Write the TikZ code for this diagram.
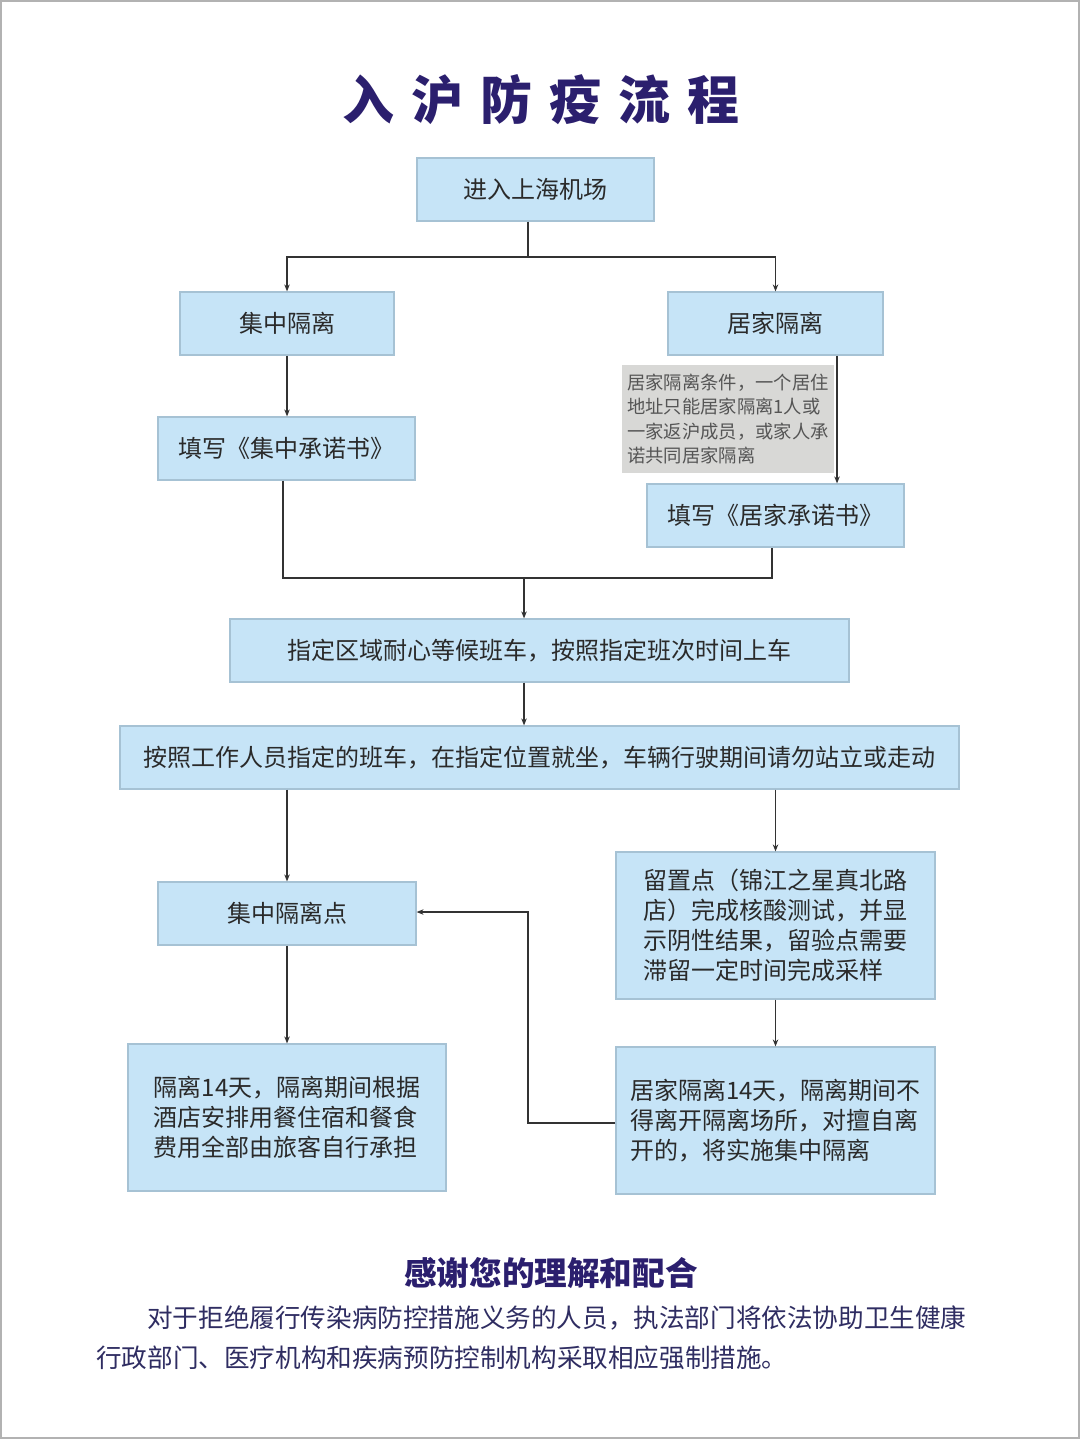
\documentclass[tikz,border=0pt]{standalone}
\usepackage{fontspec}
\setmainfont{Noto Sans CJK SC}
\usetikzlibrary{arrows.meta}
\definecolor{boxfill}{HTML}{C6E4F7}
\definecolor{boxline}{HTML}{A6C2D4}
\definecolor{boxtext}{HTML}{2A2A2A}
\definecolor{navy}{HTML}{2B1F6E}
\definecolor{paratext}{HTML}{2F2D62}
\definecolor{notefill}{HTML}{D8D8D6}
\definecolor{notetext}{HTML}{555555}
\definecolor{linecol}{HTML}{333333}
\tikzset{
  flowbox/.style={draw=boxline, fill=boxfill, line width=1.2pt, text=boxtext,
    inner sep=0pt, font=\fontsize{24}{30}\selectfont, align=left},
  notebox/.style={fill=notefill, text=notetext, inner sep=0pt,
    minimum width=212pt, minimum height=108pt,
    font=\fontsize{18.3}{24.3}\selectfont, align=left},
  conn/.style={draw=linecol, line width=1.2pt},
  arr/.style={conn, -{Stealth[length=7pt,width=5.5pt]}},
}
\begin{document}
\begin{tikzpicture}[x=1pt,y=-1pt]
\useasboundingbox (0,0) rectangle (1080,1439);
\fill[white] (0,0) rectangle (1080,1439);
\draw[gray!60, line width=2pt] (1,1) rectangle (1079,1438);

% title
\node[text=navy, font=\fontsize{52}{60}\selectfont\bfseries] (title) at (541,100)
  {入\hspace{17pt}沪\hspace{17pt}防\hspace{17pt}疫\hspace{17pt}流\hspace{17pt}程};

% boxes
\node[flowbox, minimum width=237pt, minimum height=63pt] (n1) at (535.5,189.5) {进入上海机场};
\node[flowbox, minimum width=214pt, minimum height=63pt] (n2) at (287,323.5) {集中隔离};
\node[flowbox, minimum width=215pt, minimum height=63pt] (n3) at (775.5,323.5) {居家隔离};
\node[flowbox, minimum width=257pt, minimum height=63pt] (n4) at (286.5,448.5) {填写《集中承诺书》};
\node[notebox] (note) at (728,419)
  {居家隔离条件，一个居住\\地址只能居家隔离1人或\\一家返沪成员，或家人承\\诺共同居家隔离};
\node[flowbox, minimum width=257pt, minimum height=63pt] (n6) at (775.5,515.5) {填写《居家承诺书》};
\node[flowbox, minimum width=619pt, minimum height=63pt] (n7) at (539.5,650.5)
  {指定区域耐心等候班车，按照指定班次时间上车};
\node[flowbox, minimum width=839pt, minimum height=63pt] (n8) at (539.5,757.5)
  {按照工作人员指定的班车，在指定位置就坐，车辆行驶期间请勿站立或走动};
\node[flowbox, minimum width=258pt, minimum height=63pt] (n9) at (287,913.5) {集中隔离点};
\node[flowbox, minimum width=319pt, minimum height=147pt] (n10) at (775.5,925.5)
  {留置点（锦江之星真北路\\店）完成核酸测试，并显\\示阴性结果，留验点需要\\滞留一定时间完成采样};
\node[flowbox, minimum width=318pt, minimum height=147pt] (n11) at (287,1117.5)
  {隔离14天，隔离期间根据\\酒店安排用餐住宿和餐食\\费用全部由旅客自行承担};
\node[flowbox, minimum width=319pt, minimum height=147pt] (n12) at (775.5,1120.5)
  {居家隔离14天，隔离期间不\\得离开隔离场所，对擅自离\\开的，将实施集中隔离};

% connectors
\coordinate (j1) at (528,257);
\draw[conn] (j1 |- n1.south) -- (j1);
\draw[arr] (j1) -| (n2.north);
\draw[arr] (j1) -| (n3.north);
\draw[arr] (n2.south) -- (n2.south |- n4.north);
\coordinate (c3) at (837,0);
\draw[arr] (c3 |- n3.south) -- (c3 |- n6.north);
\coordinate (j2) at (524,578);
\coordinate (c4) at (283,0);
\coordinate (c6) at (772,0);
\draw[conn] (c4 |- n4.south) |- (j2) -| (c6 |- n6.south);
\draw[arr] (j2) -- (j2 |- n7.north);
\draw[arr] (j2 |- n7.south) -- (j2 |- n8.north);
\draw[arr] (n9.north |- n8.south) -- (n9.north);
\draw[arr] (n10.north |- n8.south) -- (n10.north);
\draw[arr] (n9.south) -- (n11.north);
\draw[arr] (n10.south) -- (n10.south |- n12.north);
\coordinate (j3) at (528,1123);
\coordinate (j4) at (528,912);
\draw[arr] (j3 -| n12.west) -- (j3) -- (j4) -- (j4 -| n9.east);

% footer
\node[text=navy, font=\fontsize{32.6}{38}\selectfont\bfseries] (thanks) at (551,1273)
  {感谢您的理解和配合};
\node[text=paratext, anchor=west, inner sep=0pt, font=\fontsize{25.6}{30}\selectfont] (p1) at (147,1318)
  {对于拒绝履行传染病防控措施义务的人员，执法部门将依法协助卫生健康};
\node[text=paratext, anchor=west, inner sep=0pt, font=\fontsize{25.6}{30}\selectfont] (p2) at (96,1358)
  {行政部门、医疗机构和疾病预防控制机构采取相应强制措施。};
\end{tikzpicture}
\end{document}
